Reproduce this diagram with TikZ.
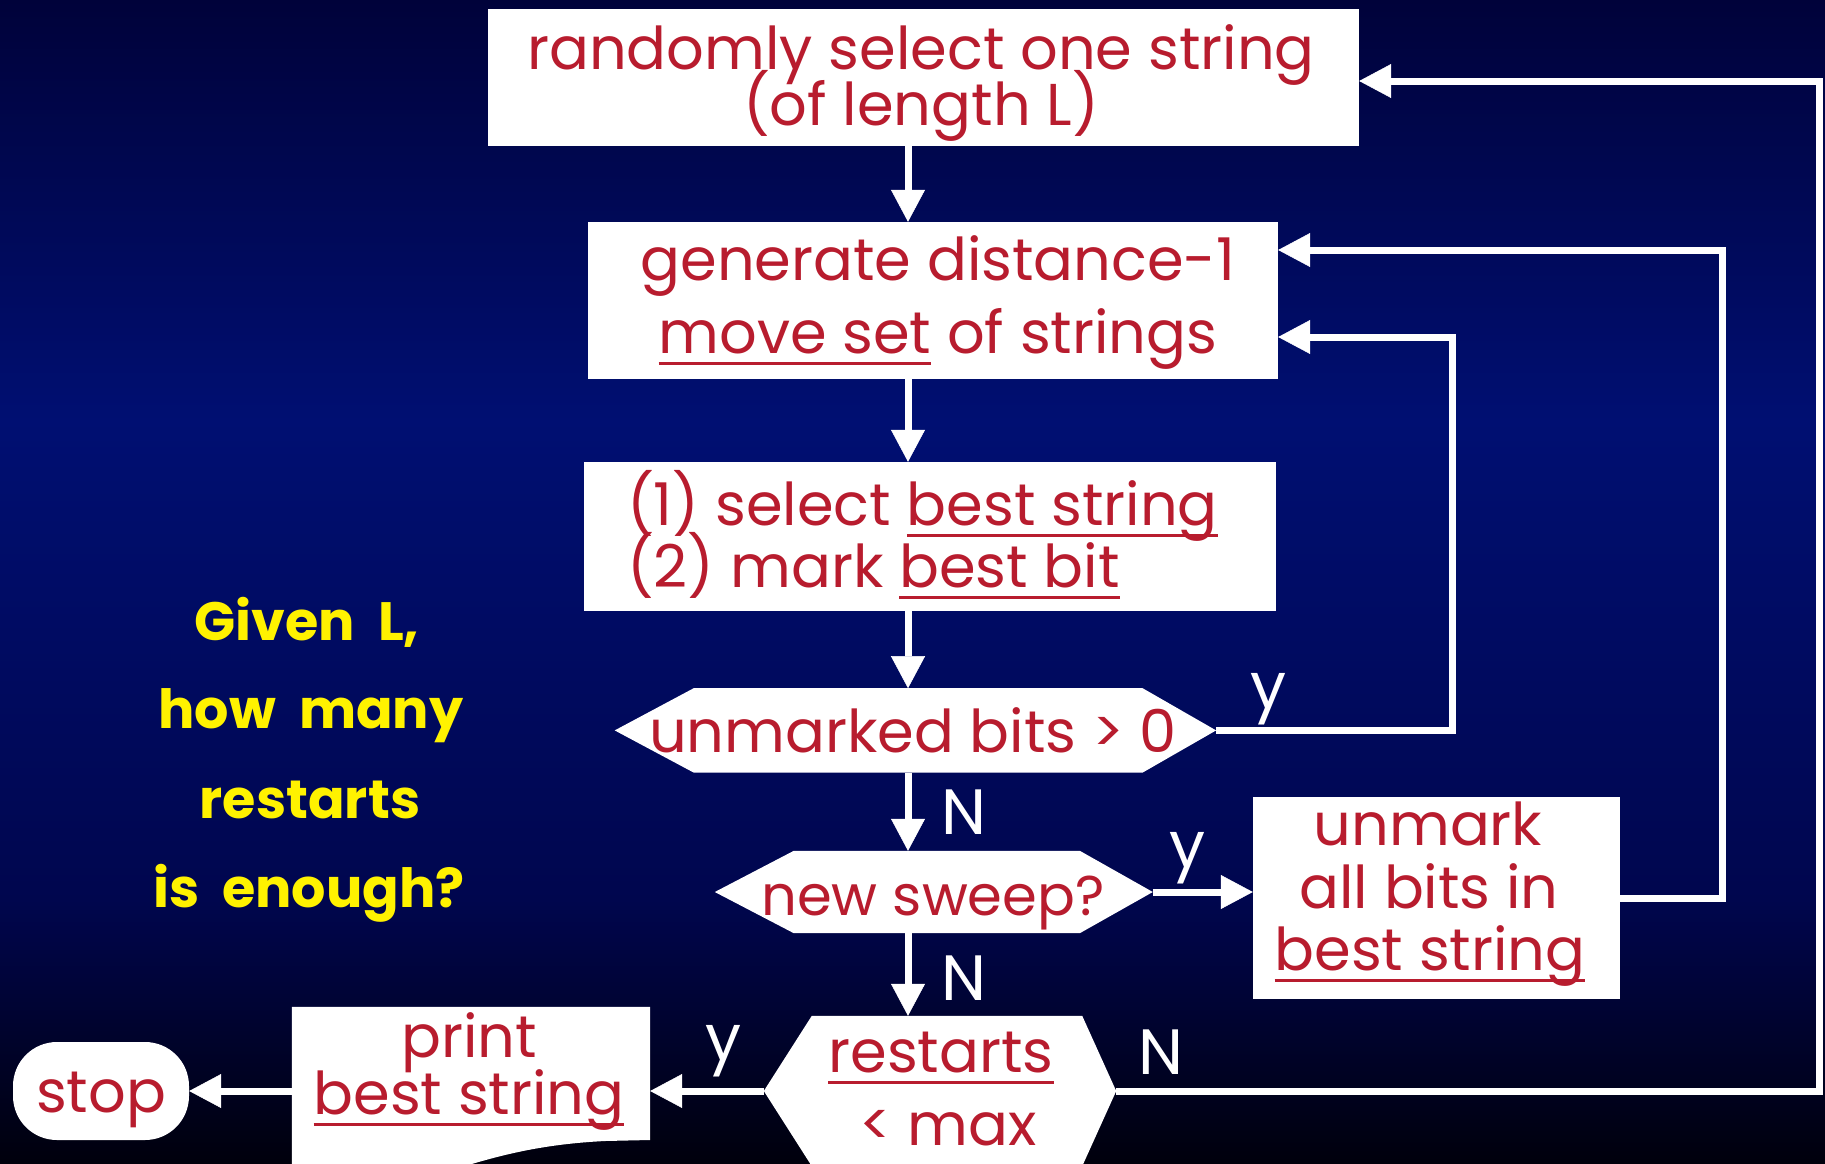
\documentclass[tikz,border=0pt]{standalone}
\usepackage{fontspec}
\setmainfont{Poppins}
\usetikzlibrary{arrows.meta,calc}

\definecolor{inkred}{HTML}{B81C2E}
\definecolor{bgtop}{HTML}{00023A}
\definecolor{bgmid}{HTML}{000F72}
\definecolor{bglow}{HTML}{00064E}
\definecolor{bgbot}{HTML}{00000C}

% underline a phrase with a rule of the current colour
\newlength\ulwid
\newcommand\undl[1]{\settowidth{\ulwid}{#1}\rlap{\rule[-0.21em]{\ulwid}{3.5pt}}#1}

\tikzset{
  box/.style={fill=white, draw=none, inner sep=0pt},
  frame/.style={draw=none, inner sep=0pt},
  txt/.style={text=inkred, font=\fontsize{59}{60}\selectfont, anchor=base, inner sep=0pt},
  lbl/.style={text=white, font=\fontsize{64}{64}\selectfont, inner sep=0pt},
  ask/.style={text=yellow, font=\bfseries\fontsize{54}{60}\selectfont, anchor=base, inner sep=0pt},
  flow/.style={draw=white, line width=7pt, -{Triangle[width=34pt,length=32pt,line width=0.5pt]}},
}

\begin{document}
\begin{tikzpicture}[x=1pt,y=-1pt]
\useasboundingbox (0,0) rectangle (1825,1164);
\clip (0,0) rectangle (1825,1164);

% background gradient
\shade[top color=bgtop, bottom color=bgmid] (0,0) rectangle (1825,421);
\shade[top color=bgmid, bottom color=bglow] (0,420) rectangle (1825,901);
\shade[top color=bglow, bottom color=bgbot] (0,900) rectangle (1825,1164);

% main column
\coordinate (spine) at (908,0);

\node[box, minimum width=871pt, minimum height=137pt] (b1) at (923.5,77.5) {};
\node[box, minimum width=690pt, minimum height=157pt] (b2) at (933,300.5) {};
\node[box, minimum width=692pt, minimum height=149pt] (b3) at (930,536.5) {};
\node[box, minimum width=367pt, minimum height=202pt] (b4) at (1436.5,898) {};

% decision hexagons (frames carry the names, outlines filled below)
\node[frame, minimum width=601pt, minimum height=84pt] (h1) at (915.4,730.4) {};
\node[frame, minimum width=437.6pt, minimum height=82pt] (h2) at (933.8,892) {};
\node[frame, minimum width=352pt, minimum height=150pt] (h3) at (940,1091) {};
\fill[white] (h1.west) -- ([xshift=79pt]h1.north west) -- ([xshift=-73.5pt]h1.north east)
  -- (h1.east) -- ([xshift=-73.5pt]h1.south east) -- ([xshift=79pt]h1.south west) -- cycle;
\fill[white] (h2.west) -- ([xshift=79pt]h2.north west) -- ([xshift=-73pt]h2.north east)
  -- (h2.east) -- ([xshift=-73pt]h2.south east) -- ([xshift=79pt]h2.south west) -- cycle;
\fill[white] (h3.west) -- ([xshift=48pt]h3.north west) -- ([xshift=-34pt]h3.north east)
  -- (h3.east) -- ([xshift=-34pt]h3.south east) -- ([xshift=48pt]h3.south west) -- cycle;

% output document and terminator
\node[frame, minimum width=358pt, minimum height=157pt] (pr) at (471,1085.5) {};
\fill[white] (pr.north west) -- (pr.north east) -- (650,1140) -- (605,1141)
  .. controls (545,1144) and (505,1154) .. (465,1166) -- (pr.south west) -- cycle;
\node[box, rounded corners=44pt, minimum width=176pt, minimum height=98pt] (stop) at (101,1091) {};

% texts
\node[txt] (t1a) at (921,70) {randomly select one string};
\node[txt] (t1b) at (921,125) {(of length L)};
\node[txt] (t2a) at (938,280) {generate distance-1};
\node[txt] (t2b) at (938,353) {\undl{move set} of strings};
\node[txt, anchor=base west] (t3a) at (627,525) {(1) select \undl{best string}};
\node[txt, anchor=base west] (t3b) at (627,587) {(2) mark \undl{best bit}};
\node[txt] (t4) at (913,752) {unmarked bits > 0};
\node[txt, font=\fontsize{56}{60}\selectfont] (t5) at (933,915) {new sweep?};
\node[txt] (t6a) at (1428,845) {unmark};
\node[txt] (t6b) at (1429,908) {all bits in};
\node[txt] (t6c) at (1430,970) {\undl{best string}};
\node[txt] (t7a) at (941,1072) {\undl{restarts}};
\node[txt] (t7b) at (948,1145) {< max};
\node[txt] (t8a) at (469,1057) {print};
\node[txt] (t8b) at (469,1114) {\undl{best string}};
\node[txt] (t9) at (101,1112) {stop};

% side question
\node[ask] (q1) at (307,640) {Given\ \ L,};
\node[ask] (q2) at (311,728) {how\ \ many};
\node[ask] (q3) at (310,818) {restarts};
\node[ask] (q4) at (309,907) {is\ \ enough?};

% connectors
\draw[flow] (b1.south -| spine) -- (b2.north -| spine);
\draw[flow] (b2.south -| spine) -- (b3.north -| spine);
\draw[flow] (b3.south -| spine) -- (h1.north -| spine);
\draw[flow] (h1.south -| spine) -- (h2.north -| spine);
\draw[flow] (h2.south -| spine) -- (h3.north -| spine);

\coordinate (loopA) at (1452,337);
\coordinate (loopB) at (1722,250);
\coordinate (loopC) at (1819,81);
\draw[flow] (h1.east) -| (loopA) -- (loopA -| b2.east);
\draw[flow] (b4.east) -| (loopB) -- (loopB -| b2.east);
\draw[flow] (h3.east) -| (loopC) -- (loopC -| b1.east);
\draw[flow] (h2.east) -- (h2.east -| b4.west);
\draw[flow] (h3.west) -- (h3.west -| pr.east);
\draw[flow] (h3.west -| pr.west) -- (h3.west -| stop.east);

% branch labels
\node[lbl] (y1) at (1268,699) {y};
\node[lbl] (n1) at (964,812) {N};
\node[lbl] (y2) at (1187,858) {y};
\node[lbl] (n2) at (964,978) {N};
\node[lbl] (y3) at (724,1051) {y};
\node[lbl] (n3) at (1161,1052) {N};
\end{tikzpicture}
\end{document}
